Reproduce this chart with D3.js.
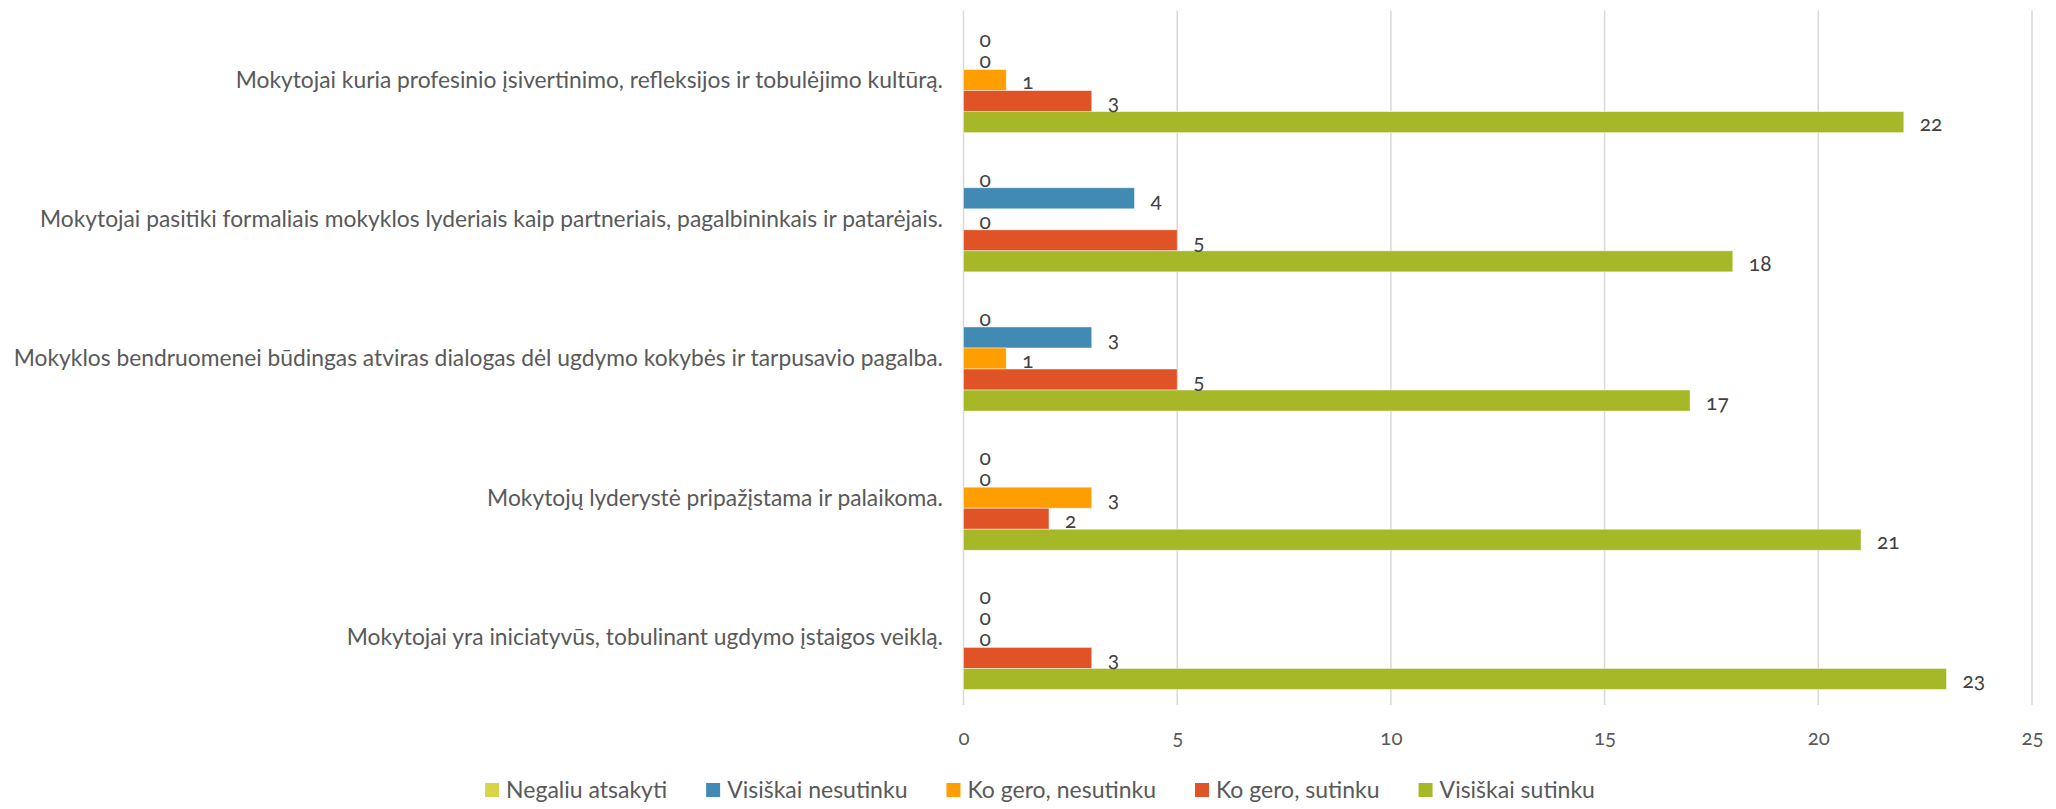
<!DOCTYPE html>
<html>
<head>
<meta charset="utf-8">
<script src="https://cdn.jsdelivr.net/npm/d3@7"></script>
<style>
  html, body { margin: 0; padding: 0; background: #fff; }
  svg { display: block; }
  text { font-family: Lato, "Open Sans", "Noto Sans", sans-serif; }
</style>
</head>
<body>
<svg id="chart" width="2056" height="809"></svg>
<script>
const categories = [
  "Mokytojai kuria profesinio įsivertinimo, refleksijos ir tobulėjimo kultūrą.",
  "Mokytojai pasitiki formaliais mokyklos lyderiais kaip partneriais, pagalbininkais ir patarėjais.",
  "Mokyklos bendruomenei būdingas atviras dialogas dėl ugdymo kokybės ir tarpusavio pagalba.",
  "Mokytojų lyderystė pripažįstama ir palaikoma.",
  "Mokytojai yra iniciatyvūs, tobulinant ugdymo įstaigos veiklą."
];
const seriesNames = ["Negaliu atsakyti", "Visiškai nesutinku", "Ko gero, nesutinku", "Ko gero, sutinku", "Visiškai sutinku"];
const negaliuAtsakyti   = [0, 0, 0, 0, 0];
const visiskaiNesutinku = [0, 4, 3, 0, 0];
const koGeroNesutinku   = [1, 0, 1, 3, 0];
const koGeroSutinku     = [3, 5, 5, 2, 3];
const visiskaiSutinku   = [22, 18, 17, 21, 23];
const seriesColors = ["#D7D447", "#418AB3", "#FE9E00", "#DF5327", "#A6B727"];
const xTicks = [0, 5, 10, 15, 20, 25];

const seriesValues = [negaliuAtsakyti, visiskaiNesutinku, koGeroNesutinku, koGeroSutinku, visiskaiSutinku];
const series = seriesNames.map((name, i) => ({ name, color: seriesColors[i], values: seriesValues[i] }));

const svg = d3.select("#chart");
const plot = { left: 963.5, right: 2032, top: 10.5, bottom: 706.5 };

const x = d3.scaleLinear().domain([0, 25]).range([plot.left, plot.right]);
const y = d3.scaleBand().domain(categories).range([plot.top, plot.bottom])
  .paddingInner(0.245).paddingOuter(0.1225);
const ySub = d3.scaleBand().domain(seriesNames).range([0, y.bandwidth()]);

// gridlines
svg.append("g").selectAll("line").data(xTicks).join("line")
  .attr("x1", d => x(d)).attr("x2", d => x(d))
  .attr("y1", plot.top).attr("y2", plot.bottom - 1.5)
  .attr("stroke", "#d9d9d9").attr("stroke-width", 1.5);

// x axis tick labels
const xAxis = d3.axisBottom(x).tickValues(xTicks).tickSize(0).tickPadding(0);
const gx = svg.append("g").attr("transform", `translate(0, 738)`).call(xAxis);
gx.select(".domain").remove();
gx.selectAll("text")
  .attr("y", 0).attr("dy", "0.35em")
  .attr("fill", "#595959").attr("font-size", 20.5)
  .style("font-family", "Lato, 'Open Sans', sans-serif")
  .style("font-variant-numeric", "oldstyle-nums");

// category labels
const yAxis = d3.axisLeft(y).tickSize(0).tickPadding(0);
const gy = svg.append("g").attr("transform", `translate(943, 0)`).call(yAxis);
gy.select(".domain").remove();
gy.selectAll("text")
  .attr("x", 0).attr("dy", "0.35em")
  .attr("fill", "#595959").attr("font-size", 22.8)
  .style("font-family", "Lato, 'Open Sans', sans-serif");

// bars
const groups = svg.append("g").selectAll("g").data(categories).join("g")
  .attr("transform", d => `translate(0, ${y(d)})`);

groups.each(function(cat, ci) {
  const g = d3.select(this);
  const items = series.map(s => ({ name: s.name, color: s.color, value: s.values[ci] }));
  g.selectAll("rect").data(items).join("rect")
    .attr("x", x(0))
    .attr("y", d => ySub(d.name))
    .attr("width", d => Math.max(0, x(d.value) - x(0)))
    .attr("height", ySub.bandwidth())
    .attr("fill", d => d.color)
    .attr("stroke", "#ffffff").attr("stroke-opacity", 0.55).attr("stroke-width", d => d.value > 0 ? 0.8 : 0);
  g.selectAll("text").data(items).join("text")
    .attr("x", d => x(d.value) + 16)
    .attr("y", d => ySub(d.name) + ySub.bandwidth() / 2 + 2)
    .attr("dy", "0.35em")
    .attr("fill", "#404040").attr("font-size", 21)
    .style("font-variant-numeric", "oldstyle-nums")
    .text(d => d.value);
});

// legend
const legend = svg.append("g");
const items = [];
series.forEach(s => {
  const it = legend.append("g");
  it.append("rect").attr("x", 0).attr("y", -7).attr("width", 14).attr("height", 14).attr("fill", s.color);
  const t = it.append("text").attr("x", 21).attr("y", 0).attr("dy", "0.35em")
    .attr("fill", "#595959").attr("font-size", 23).text(s.name);
  const w = 21 + t.node().getComputedTextLength();
  items.push({ it, w });
});
const gap = 39;
const total = d3.sum(items, d => d.w) + gap * (items.length - 1);
let start = 1040 - total / 2;
items.forEach(d => {
  d.it.attr("transform", `translate(${start}, 790)`);
  start += d.w + gap;
});
</script>
</body>
</html>
